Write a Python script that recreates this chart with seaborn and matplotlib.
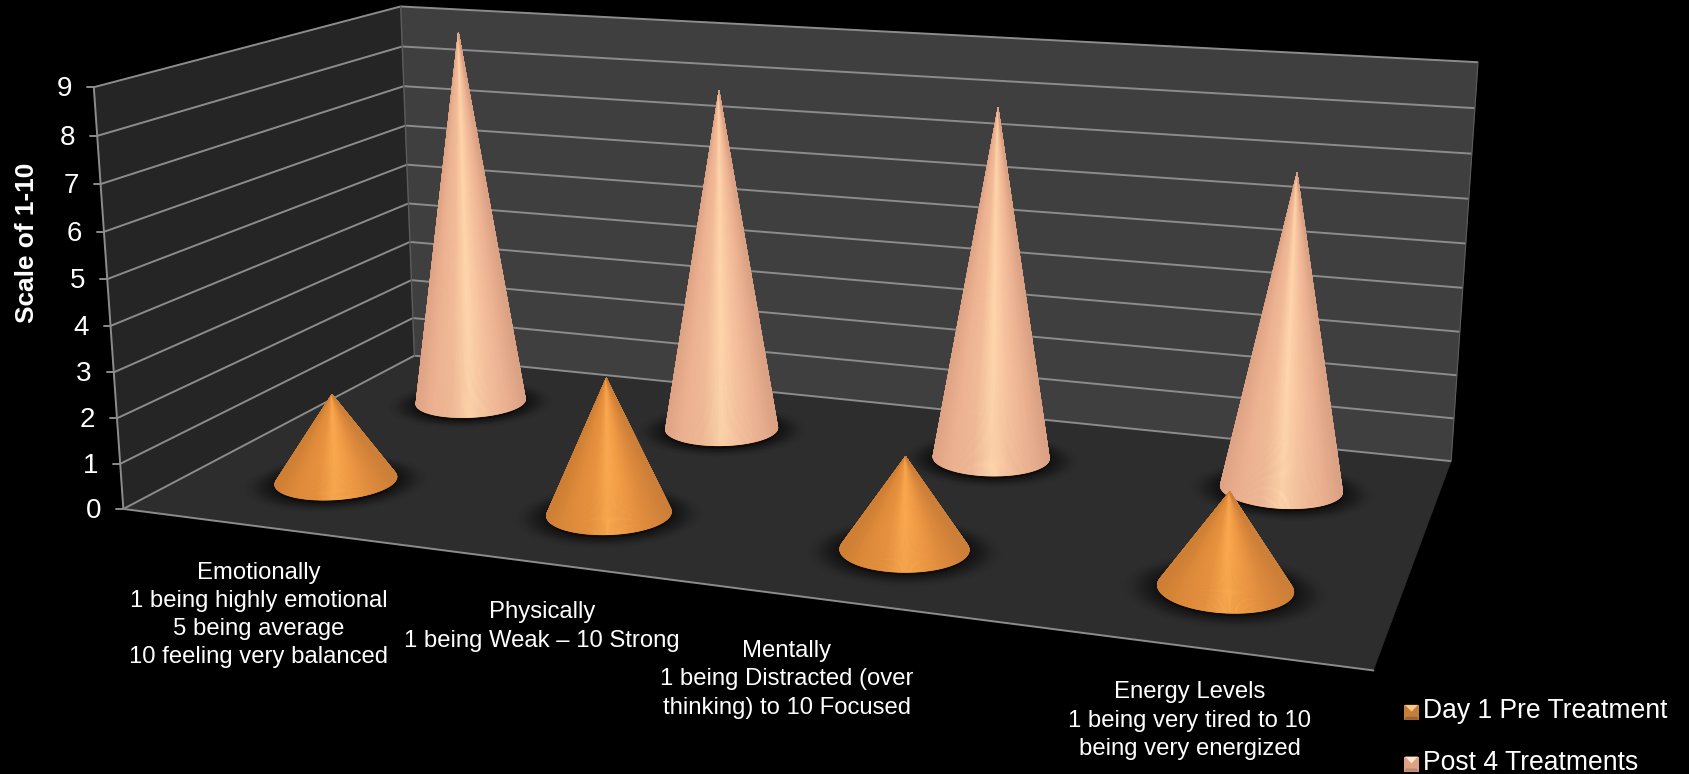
import numpy as np
import pandas as pd
import seaborn as sns
import matplotlib
matplotlib.use("Agg")
import matplotlib.pyplot as plt
from matplotlib.collections import PolyCollection
from matplotlib.legend_handler import HandlerBase
from matplotlib.patches import Rectangle, Polygon

categories = [
    "Emotionally\n1 being highly emotional\n5 being average\n10 feeling very balanced",
    "Physically\n1 being Weak \u2013 10 Strong",
    "Mentally\n1 being Distracted (over\nthinking) to 10 Focused",
    "Energy Levels\n1 being very tired to 10\nbeing very energized",
]
series_names = ["Day 1 Pre Treatment", "Post 4 Treatments"]
day1_values = [2, 3, 2, 2]
post4_values = [9, 8, 8, 7]
value_ticks = list(range(10))
axis_title = "Scale of 1-10"

W, H = 1690, 774
sns.set_theme(style="dark", rc={"figure.facecolor": "black", "axes.facecolor": "black",
                                "text.color": "white", "font.family": ["Liberation Sans", "DejaVu Sans"]})

frame = pd.DataFrame({"category": np.tile(np.arange(4), 2),
                      "series": np.repeat(series_names, 4),
                      "value": day1_values + post4_values})

# Box corners (category axis, depth, height) and where they land on the canvas.
box = np.array([[0, 0, 0], [0, 0, 1], [0, 1, 0], [0, 1, 1], [1, 1, 0], [1, 1, 1], [1, 0, 0]], float)
canvas = np.array([[123.2, 509], [93.8, 87.5], [414.5, 355.4], [400.7, 6.4],
                   [1451, 461.7], [1478, 62], [1373.5, 670]], float)


def fit_camera(obj, img):
    rows = []
    for (x, y, z), (u, v) in zip(obj, img):
        rows.append([x, y, z, 1, 0, 0, 0, 0, -u * x, -u * y, -u * z, -u])
        rows.append([0, 0, 0, 0, x, y, z, 1, -v * x, -v * y, -v * z, -v])
    return np.linalg.svd(np.array(rows))[2][-1].reshape(3, 4)


CAM = fit_camera(box, canvas)
VMAX = value_ticks[-1]


def project(u, d, value):
    u, d, value = np.broadcast_arrays(u, d, value)
    pts = np.stack([u, d, value / VMAX, np.ones_like(u, dtype=float)], axis=-1)
    q = pts @ CAM.T
    return q[..., 0] / q[..., 2], q[..., 1] / q[..., 2]


fig = plt.figure(figsize=(W / 100, H / 100), dpi=100)
ax = fig.add_axes([0, 0, 1, 1])
ax.set_xlim(0, W)
ax.set_ylim(H, 0)
ax.axis("off")

WALL_LEFT, WALL_BACK, FLOOR, GRID = "#252525", "#3f3f3f", "#2d2d2d", "#8c8c8c"


def face(corners, color):
    xs, ys = project(*np.array(corners, float).T)
    ax.add_patch(Polygon(np.c_[xs, ys], closed=True, fc=color, ec=color, lw=0.5, zorder=1))


face([(0, 0, 0), (0, 1, 0), (0, 1, VMAX), (0, 0, VMAX)], WALL_LEFT)
face([(0, 1, 0), (1, 1, 0), (1, 1, VMAX), (0, 1, VMAX)], WALL_BACK)
face([(0, 0, 0), (1, 0, 0), (1, 1, 0), (0, 1, 0)], FLOOR)

for tick in value_ticks:
    xs, ys = project(np.array([0, 0, 1.0]), np.array([0, 1, 1.0]), float(tick))
    ax.plot(xs, ys, color=GRID, lw=1.4, zorder=2, solid_capstyle="butt")
    ax.plot([xs[0] - 7, xs[0]], [ys[0], ys[0]], color=GRID, lw=1.4, zorder=2)
    ax.text(xs[0] - 22, ys[0] + 2, str(tick), ha="right", va="center", fontsize=20, color="white")
xs, ys = project(np.array([0, 1.0]), np.array([0, 0.0]), 0.0)
ax.plot(xs, ys, color=GRID, lw=1.4, zorder=2)
xs, ys = project(np.array([0.0, 0.0]), np.array([0.0, 0.0]), np.array([0.0, float(VMAX)]))
ax.plot(xs, ys, color=GRID, lw=1.4, zorder=2)
xs, ys = project(np.array([0.0, 0.0]), np.array([1.0, 1.0]), np.array([0.0, float(VMAX)]))
ax.plot(xs, ys, color="#5c5c5c", lw=1.0, zorder=2)
xs, ys = project(np.array([1.0, 1.0]), np.array([1.0, 1.0]), np.array([0.0, float(VMAX)]))
ax.plot(xs, ys, color="#5c5c5c", lw=0.8, zorder=2)

RU, RD = 0.05, 0.105
APEX_SOFTEN = 2.0
theta = np.linspace(0, 2 * np.pi, 361)


def draw_shadow(uc, dc):
    # soft contact shadow: concentric rims that darken towards the base
    for scale, a in zip(np.linspace(1.5, 1.0, 16), np.linspace(0.012, 0.07, 16)):
        xs, ys = project(uc + scale * RU * np.cos(theta), dc + scale * RD * np.sin(theta), 0.0)
        ax.fill(xs, ys + 2, color="black", alpha=a, lw=0, zorder=3)
    xs, ys = project(uc + RU * np.cos(theta), dc + RD * np.sin(theta), 0.0)
    ax.fill(xs, ys + 2.5, color="#120c08", lw=0, zorder=3)


def draw_cone(uc, dc, value, ramp, z):
    bx, by = project(uc + RU * np.cos(theta), dc + RD * np.sin(theta), 0.0)
    tip_x, tip_y = project(uc, dc, float(value))
    tip_y = tip_y + APEX_SOFTEN
    left, right = bx.min(), bx.max()
    # the rim seen from the camera runs between the silhouette tangents
    ang = np.arctan2(by - tip_y, bx - tip_x)
    i0, i1 = sorted((int(np.argmax(ang)), int(np.argmin(ang))))
    arc = np.arange(i0, i1) if by[(i0 + i1) // 2] > by[i0] else np.r_[np.arange(i1, len(bx) - 1), np.arange(0, i0)]
    polys, cols = [], []
    for i in arc:
        polys.append([(tip_x, tip_y), (bx[i], by[i]), (bx[i + 1], by[i + 1])])
        t = ((bx[i] + bx[i + 1]) / 2 - left) / (right - left)
        cols.append(ramp[int(np.clip(t, 0, 0.999) * len(ramp))])
    ax.add_collection(PolyCollection(polys, facecolors=cols, edgecolors=cols, linewidths=0.5, zorder=z))


ramp_day = sns.blend_palette(["#CE7F33", "#E08C3C", "#E8933F", "#FBA950", "#F09B45", "#DF8B3E", "#CC7F38"], 64)
ramp_post = sns.blend_palette(["#DDA384", "#EDB392", "#F2BB98", "#FFD6AC", "#F6C29E", "#EDB392", "#DAA184"], 64)
ramps = dict(zip(series_names, [ramp_day, ramp_post]))
depths = dict(zip(series_names, [0.25, 0.75]))

centres = (np.arange(4) + 0.5) / 4
for _, row in frame.iterrows():
    draw_shadow(centres[row.category], depths[row.series])
for name, z in [(series_names[1], 4), (series_names[0], 5)]:
    for _, row in frame[frame.series == name].iterrows():
        draw_cone(centres[row.category], depths[name], row.value, ramps[name], z)

label_pos = [(258.7, 615), (542, 626.5), (787, 679.5), (1190, 720.5)]
for text, (x, y) in zip(categories, label_pos):
    ax.text(x, y, text, ha="center", va="center", fontsize=17.2, linespacing=1.36, color="white")

ax.text(27.5, 242.5, axis_title, rotation=90, ha="center", va="center",
        fontsize=18.9, fontweight="bold", color="white")


class ConeKey(HandlerBase):
    """Small square swatch with the bevelled look of a 3-D series key."""

    def __init__(self, base, top, bottom):
        super().__init__()
        self.base, self.top, self.bottom = base, top, bottom

    def create_artists(self, legend, orig, x0, y0, width, height, fontsize, trans):
        s = 10.8
        y = y0 - 1.5
        parts = [Rectangle((x0, y), s, s, fc=self.base, lw=0, transform=trans),
                 Polygon([(x0, y), (x0 + s, y), (x0 + s - 1.5, y + 2.2), (x0 + 1.5, y + 2.2)],
                         fc=self.bottom, lw=0, transform=trans),
                 Polygon([(x0 + 0.7, y + s), (x0 + s - 0.7, y + s), (x0 + s / 2, y + s * 0.55)],
                         fc=self.top, lw=0, transform=trans)]
        return parts


h1, h2 = Rectangle((0, 0), 1, 1), Rectangle((0, 0), 1, 1)
ax.legend([h1, h2], series_names, prop={"size": 19.1}, frameon=False,
          handler_map={h1: ConeKey("#C47E3C", "#F8CC88", "#9E6230"),
                       h2: ConeKey("#DDA285", "#FFE6CC", "#B98A70")},
          loc="lower left", bbox_to_anchor=(1404 / W, -1.5 / H), borderpad=0, borderaxespad=0,
          handlelength=0.565, handleheight=0.7, handletextpad=0.17, labelspacing=0.97, labelcolor="white")

sns.despine(ax=ax, left=True, bottom=True)
fig.savefig("out.png", dpi=100, facecolor="black")
